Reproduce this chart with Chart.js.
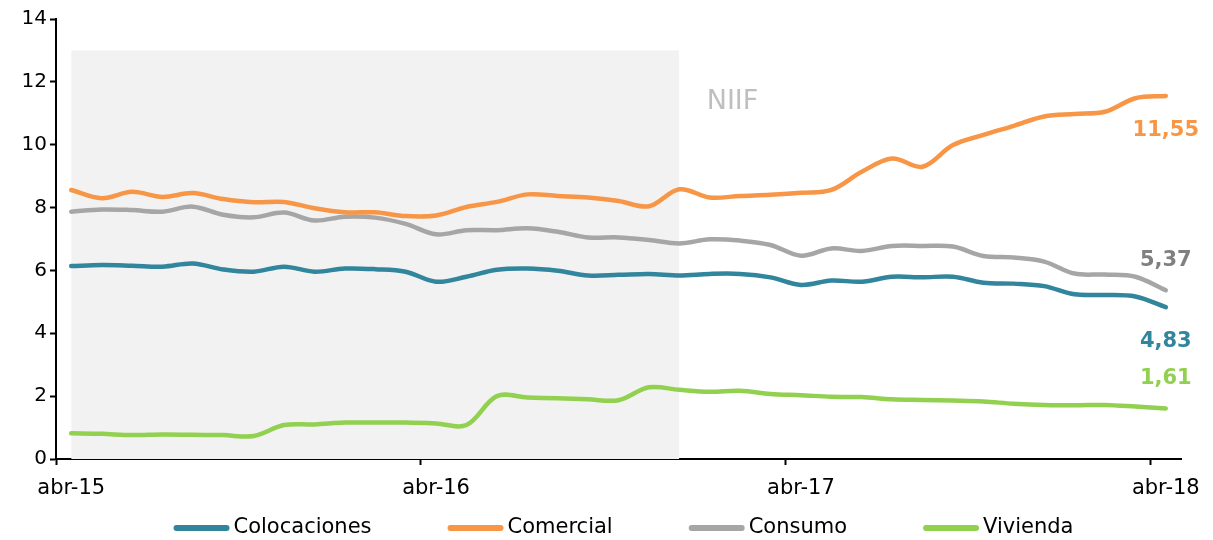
<!DOCTYPE html>
<html>
<head>
<meta charset="utf-8">
<script src="https://cdn.jsdelivr.net/npm/chart.js@4.4.0/dist/chart.umd.min.js"></script>
<style>
  html, body { margin: 0; padding: 0; background: #fff; }
  #wrap { width: 1213px; height: 540px; position: relative; }
</style>
</head>
<body>
<div id="wrap"><canvas id="line-chart"></canvas></div>
<script>

// meses abr-15 .. abr-18
let months = ["abr-15","may-15","jun-15","jul-15","ago-15","sep-15","oct-15","nov-15","dic-15","ene-16","feb-16","mar-16",
  "abr-16","may-16","jun-16","jul-16","ago-16","sep-16","oct-16","nov-16","dic-16","ene-17","feb-17","mar-17",
  "abr-17","may-17","jun-17","jul-17","ago-17","sep-17","oct-17","nov-17","dic-17","ene-18","feb-18","mar-18",
  "abr-18"]

let colocaciones = [6.14,6.17,6.15,6.12,6.22,6.03,5.96,6.12,5.96,6.06,6.04,5.96,
  5.64,5.80,6.02,6.06,5.99,5.84,5.86,5.89,5.84,5.89,5.89,5.78,
  5.54,5.68,5.64,5.80,5.78,5.80,5.61,5.58,5.50,5.24,5.22,5.17,4.83]

let comercial = [8.56,8.30,8.50,8.34,8.46,8.27,8.17,8.18,7.98,7.85,7.85,7.73,
  7.75,8.02,8.18,8.42,8.37,8.32,8.21,8.04,8.58,8.32,8.37,8.41,
  8.47,8.56,9.14,9.56,9.30,9.99,10.31,10.60,10.90,10.98,11.05,11.48,11.55]

let consumo = [7.87,7.94,7.92,7.87,8.03,7.77,7.69,7.84,7.59,7.71,7.68,7.48,
  7.15,7.28,7.28,7.34,7.23,7.05,7.05,6.97,6.86,6.99,6.95,6.81,
  6.47,6.70,6.62,6.78,6.78,6.76,6.46,6.41,6.28,5.90,5.87,5.80,5.37]

let vivienda = [0.82,0.80,0.76,0.78,0.77,0.76,0.73,1.08,1.10,1.16,1.16,1.16,
  1.13,1.08,2.00,1.96,1.93,1.90,1.87,2.28,2.20,2.14,2.17,2.07,
  2.03,1.98,1.97,1.90,1.88,1.86,1.83,1.76,1.72,1.71,1.72,1.67,1.61]

// periodo sombreado (antes de NIIF)
let niifShade = [13,13,13,13,13,13,13,13,13,13,13,13,
  13,13,13,13,13,13,13,13,13,null,null,null,
  null,null,null,null,null,null,null,null,null,null,null,null,null]

let seriesNames = ["Colocaciones", "Comercial", "Consumo", "Vivienda"]
let seriesColors = ["#31859c", "#f79646", "#a6a6a6", "#92d050"]
let endLabelColors = ["#31859c", "#f79646", "#808080", "#92d050"]
let endLabelOffsets = [34, 35, -30, -30]

const FONT = "'DejaVu Sans', Verdana, sans-serif"

/// dibuja etiquetas de valor final, texto NIIF y la leyenda
const extrasPlugin = {
  id: 'extras',
  afterDatasetsDraw(chart) {
    const ctx = chart.ctx
    const x = chart.scales.x
    const y = chart.scales.y
    ctx.save()

    // NIIF
    ctx.font = "27px " + FONT
    ctx.fillStyle = "#bfbfbf"
    ctx.textAlign = "center"
    ctx.textBaseline = "middle"
    ctx.fillText("NIIF", x.getPixelForValue(21.75), y.getPixelForValue(11.35))

    // valores finales
    ctx.font = "bold 21px " + FONT
    for (let i = 0; i < 4; i++) {
      const meta = chart.getDatasetMeta(i)
      const pt = meta.data[meta.data.length - 1]
      const v = chart.data.datasets[i].data[meta.data.length - 1]
      ctx.fillStyle = endLabelColors[i]
      ctx.fillText(v.toFixed(2).replace(".", ","), pt.x, pt.y + endLabelOffsets[i])
    }

    // leyenda
    ctx.font = "21px " + FONT
    ctx.textAlign = "left"
    const swatch = 56, gap = 4, spacing = 76
    let widths = seriesNames.map(n => swatch + gap + ctx.measureText(n).width)
    let total = widths.reduce((a, b) => a + b, 0) + spacing * (widths.length - 1)
    let lx = (chart.chartArea.left + chart.chartArea.right) / 2 - total / 2 + 5
    const ly = chart.chartArea.bottom + 69
    for (let i = 0; i < seriesNames.length; i++) {
      ctx.strokeStyle = seriesColors[i]
      ctx.lineWidth = 6
      ctx.lineCap = "round"
      ctx.beginPath()
      ctx.moveTo(lx + 3, ly)
      ctx.lineTo(lx + swatch - 3, ly)
      ctx.stroke()
      ctx.fillStyle = "#000"
      ctx.fillText(seriesNames[i], lx + swatch + gap, ly)
      lx += widths[i] + spacing
    }
    ctx.restore()
  }
}

function makeLine(label, data, color) {
  return {
    label: label,
    data: data,
    borderColor: color,
    backgroundColor: color,
    borderWidth: 4.5,
    borderCapStyle: 'round',
    pointRadius: 0,
    tension: 0.35,
    fill: false,
    order: 1
  }
}

function renderChart() {
  new Chart(document.getElementById("line-chart"), {
    type: 'line',
    data: {
      labels: months,
      datasets: [
        makeLine(seriesNames[0], colocaciones, seriesColors[0]),
        makeLine(seriesNames[1], comercial, seriesColors[1]),
        makeLine(seriesNames[2], consumo, seriesColors[2]),
        makeLine(seriesNames[3], vivienda, seriesColors[3]),
        {
          label: "NIIF",
          data: niifShade,
          borderWidth: 0,
          borderColor: 'rgba(0,0,0,0)',
          backgroundColor: '#f2f2f2',
          pointRadius: 0,
          tension: 0,
          fill: 'origin',
          order: 10
        }
      ]
    },
    options: {
      responsive: false,
      animation: false,
      events: [],
      layout: { padding: { top: 19, right: 32, left: 0, bottom: 31 } },
      plugins: {
        legend: { display: false },
        tooltip: { enabled: false }
      },
      scales: {
        x: {
          type: 'category',
          offset: true,
          afterFit: s => { s.height = 50 },
          border: { display: true, color: '#000', width: 2 },
          grid: {
            offset: true,
            drawOnChartArea: false,
            drawTicks: true,
            tickLength: 6,
            tickWidth: 2,
            color: c => (c.index % 12 === 0 ? '#000' : 'rgba(0,0,0,0)')
          },
          ticks: {
            autoSkip: false,
            maxRotation: 0,
            padding: 11,
            color: '#000',
            font: { family: FONT, size: 21 },
            callback: function (val, idx) { return idx % 12 === 0 ? months[idx] : '' }
          }
        },
        y: {
          min: 0,
          max: 14,
          afterFit: s => { s.width = 56 },
          border: { display: true, color: '#000', width: 2 },
          grid: {
            drawOnChartArea: false,
            drawTicks: true,
            tickLength: 6,
            tickWidth: 2,
            color: '#000'
          },
          ticks: {
            stepSize: 2,
            padding: 3,
            color: '#000',
            font: { family: FONT, size: 20 }
          }
        }
      }
    },
    plugins: [extrasPlugin]
  })
}

const cv = document.getElementById("line-chart")
cv.width = 1213
cv.height = 540
renderChart()
</script>
</body>
</html>
